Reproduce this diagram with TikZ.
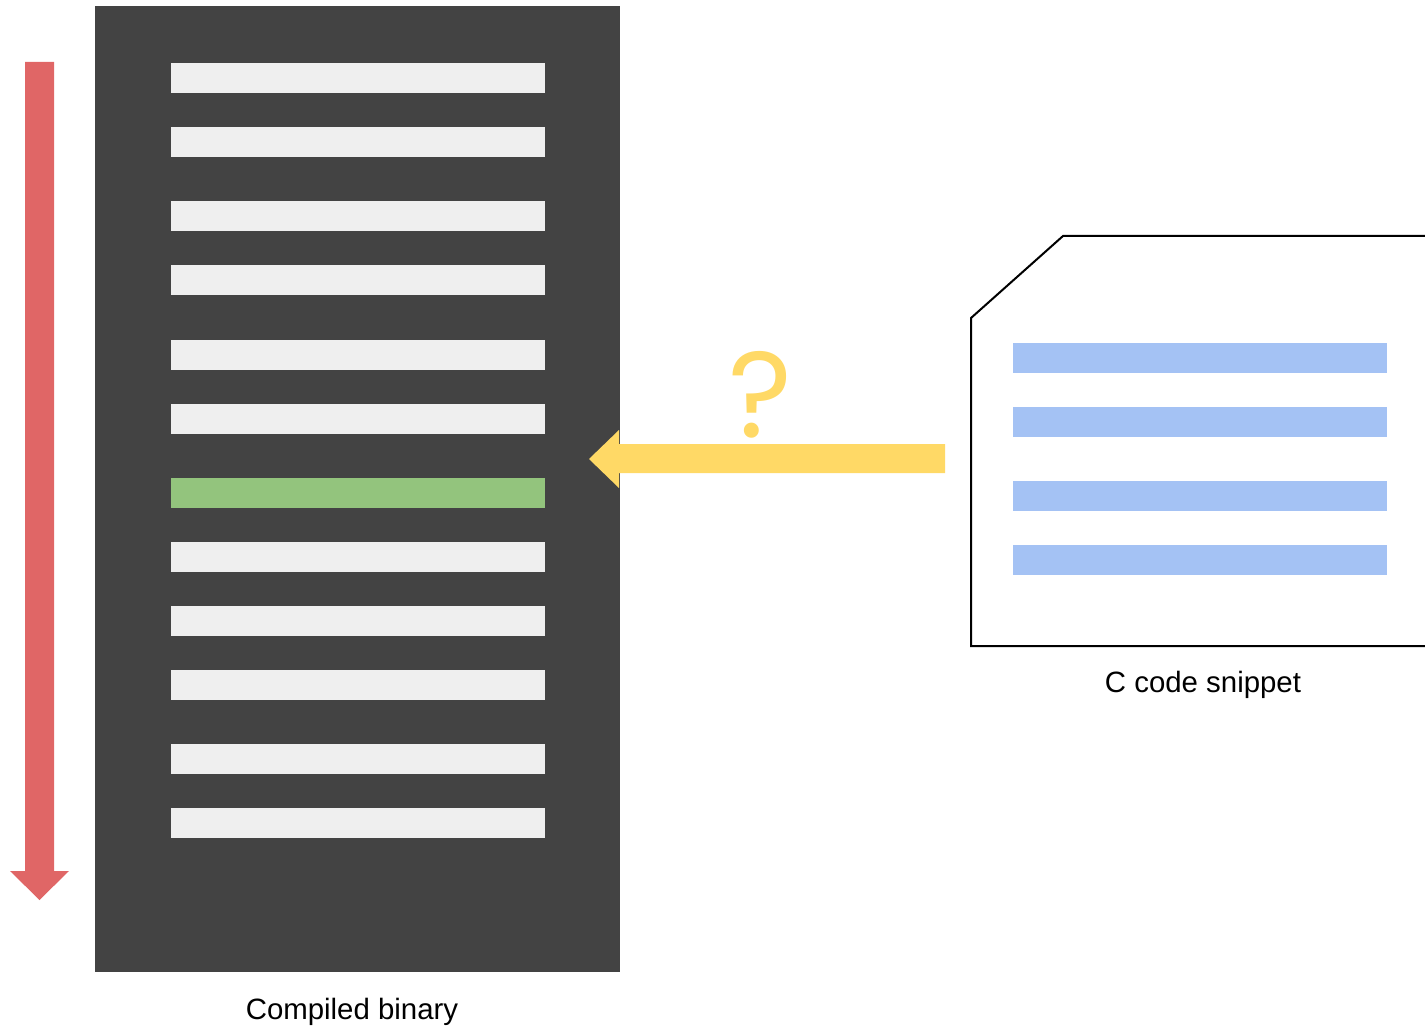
\documentclass[tikz,border=0pt]{standalone}
\usepackage{fontspec}
\setmainfont{Liberation Sans}
\newfontfamily\qfont{Poppins}
\definecolor{panel}{HTML}{434343}
\definecolor{lineclr}{HTML}{EFEFEF}
\definecolor{hitclr}{HTML}{93C47D}
\definecolor{srcclr}{HTML}{A4C2F4}
\definecolor{flowclr}{HTML}{E06666}
\definecolor{askclr}{HTML}{FFD966}
\begin{document}
\begin{tikzpicture}[x=1pt,y=-1pt,
  codebar/.style={draw=none,inner sep=0pt,minimum width=374pt,minimum height=30pt},
  binline/.style={codebar,fill=lineclr},
  srcline/.style={codebar,fill=srcclr},
  caption/.style={font=\fontsize{29.4}{34}\selectfont,inner sep=0pt,anchor=base}]
\useasboundingbox (0,0) rectangle (1425,1027);
% compiled binary panel
\node[fill=panel,draw=none,inner sep=0pt,minimum width=525pt,minimum height=966pt] (bin) at (357.5,489) {};
\foreach \n/\y in {1/78,2/142,3/216,4/280,5/355,6/419,8/557,9/621,10/685,11/759,12/823}
  \node[binline] (l\n) at (358,\y) {};
\node[codebar,fill=hitclr] (l7) at (358,493) {};
% execution direction
\fill[flowclr] (25,62) -- (54,62) -- (54,871) -- (69,871) -- (39.5,900) -- (10,871) -- (25,871) -- cycle;
% source snippet
\draw[line width=2pt,line join=miter] (1426,236) -- (1063,236) -- (971,318) -- (971,646) -- (1426,646);
\coordinate (doc) at (945,458.5);
\foreach \n/\y in {1/358,2/422,3/496,4/560}
  \node[srcline] (s\n) at (1200,\y) {};
% mapping arrow
\coordinate (hit) at (589,459);
\fill[askclr] (doc) ++(0,-14.5) -- ++(0,29) -- (619,473) -- (619,488) -- (hit) -- (619,430) -- (619,444) -- cycle;
\node[text=askclr,font=\qfont\fontsize{122}{124}\selectfont,inner sep=0pt,anchor=base] (ask) at (760,437) {?};
% captions
\node[caption] (binlbl) at (352,1019) {Compiled binary};
\node[caption] (srclbl) at (1203,692) {C code snippet};
\end{tikzpicture}
\end{document}
